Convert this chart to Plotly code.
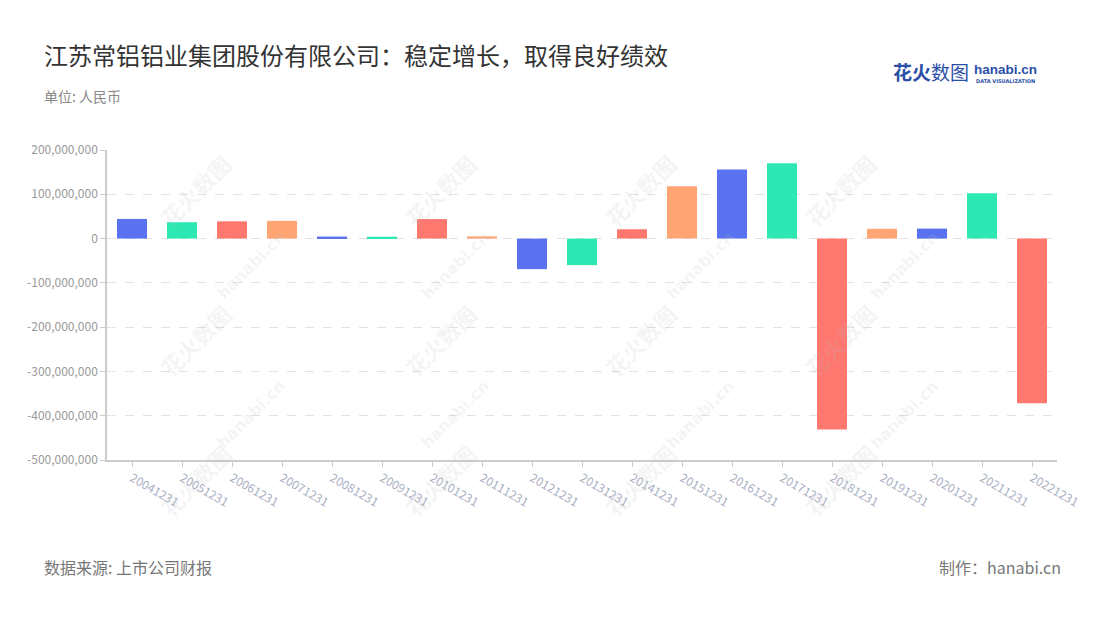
import plotly.graph_objects as go

categories = ["20041231", "20051231", "20061231", "20071231", "20081231", "20091231",
              "20101231", "20111231", "20121231", "20131231", "20141231", "20151231",
              "20161231", "20171231", "20181231", "20191231", "20201231", "20211231",
              "20221231"]
values = [44_300_000, 37_000_000, 39_000_000, 40_000_000, 4_500_000, 4_200_000,
          44_000_000, 5_000_000, -69_000_000, -60_000_000, 21_000_000, 118_000_000,
          156_000_000, 170_000_000, -431_000_000, 22_000_000, 22_500_000, 102_500_000,
          -372_000_000]
palette = ["#5A72EF", "#2EE8B4", "#FF7870", "#FFA574"]
y_ticks = [200_000_000, 100_000_000, 0, -100_000_000, -200_000_000, -300_000_000,
           -400_000_000, -500_000_000]

colors = [palette[i % 4] for i in range(len(categories))]
tick_text = [f"{v:,}" for v in y_ticks]

FONT = "Noto Sans CJK SC"

fig = go.Figure()
fig.add_trace(go.Bar(
    x=categories, y=values, marker=dict(color=colors, line=dict(width=0)),
    width=0.6, hoverinfo="x+y"))

# page body has an 8px margin, so margins are offset to land the plot area
# at x 107..1057, y 150..460 on screen
fig.update_layout(
    width=1100, height=620,
    margin=dict(l=99, r=51, t=142, b=168),
    paper_bgcolor="white", plot_bgcolor="white",
    showlegend=False,
    font=dict(family=FONT, color="#999"),
    xaxis=dict(
        type="category", tickangle=30, showgrid=False,
        showline=True, linecolor="#ccc", linewidth=1.5,
        ticks="outside", ticklen=5, tickcolor="#ccc",
        tickfont=dict(size=12, color="#aab0c4", family=FONT),
        range=[-0.5, len(categories) - 0.5],
    ),
    yaxis=dict(
        range=[-500_000_000, 200_000_000],
        tickvals=y_ticks, ticktext=tick_text,
        showgrid=True, gridcolor="#e2e2e2", griddash="dash", gridwidth=1,
        zeroline=False, showline=True, linecolor="#ccc", linewidth=1.5,
        ticks="outside", ticklen=5, tickcolor="#ccc",
        tickfont=dict(size=12, color="#999", family=FONT),
    ),
)


def px(x, y):
    return (x - 107) / 950, (460 - y) / 310


items = [
    ("江苏常铝铝业集团股份有限公司：稳定增长，取得良好绩效", 42, 54, 24, "#333", "left"),
    ("单位: 人民币", 42, 96, 14, "#888", "left"),
    ("数据来源: 上市公司财报", 42, 567, 16, "#777", "left"),
    ("制作：hanabi.cn", 1063, 567, 16, "#777", "right"),
]
anns = []
for text, x, y, size, color, align in items:
    xx, yy = px(x, y)
    anns.append(dict(text=text, x=xx, y=yy, xref="paper", yref="paper",
                     xanchor=align, yanchor="middle", showarrow=False,
                     font=dict(size=size, color=color, family=FONT)))

# Logo
xx, yy = px(931, 72)
anns.append(dict(text="<b>花火</b>数图", x=xx, y=yy, xref="paper", yref="paper",
                 xanchor="center", yanchor="middle", showarrow=False,
                 font=dict(size=19, color="#2B4FA8", family=FONT)))
xx, yy = px(1005, 69)
anns.append(dict(text="<b>hanabi.cn</b>", x=xx, y=yy, xref="paper", yref="paper",
                 xanchor="center", yanchor="middle", showarrow=False,
                 font=dict(size=13.5, color="#2B4FA8", family="Liberation Sans")))
xx, yy = px(1005, 81)
anns.append(dict(text="<b>DATA VISUALIZATION</b>", x=xx, y=yy, xref="paper", yref="paper",
                 xanchor="center", yanchor="middle", showarrow=False,
                 font=dict(size=5, color="#2B4FA8", family="DejaVu Sans")))

# Watermarks
for wx in [150, 395, 640, 885]:
    for wy in [145, 340, 525]:
        xx, yy = px(wx, wy)
        anns.append(dict(text="<b>花火数图</b>", x=xx, y=yy, xref="paper", yref="paper",
                         showarrow=False, textangle=-45,
                         font=dict(size=22, color="rgba(190,190,190,0.16)", family=FONT)))
    for wy in [265, 455]:
        xx, yy = px(wx + 60, wy)
        anns.append(dict(text="<b>hanabi.cn</b>", x=xx, y=yy, xref="paper", yref="paper",
                         showarrow=False, textangle=-45,
                         font=dict(size=16, color="rgba(190,190,190,0.16)", family="DejaVu Sans")))

fig.update_layout(annotations=anns)
fig.write_html("out.html")
